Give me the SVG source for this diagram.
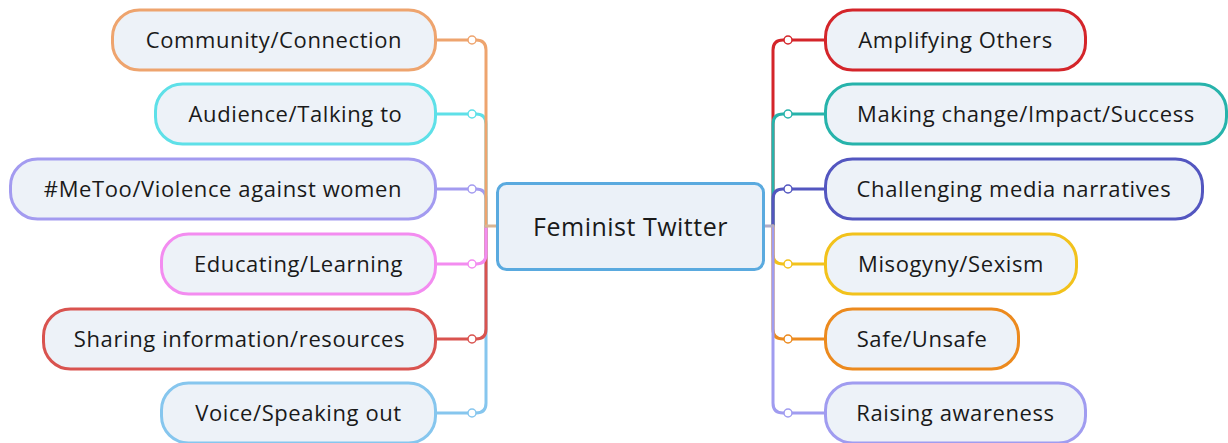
<svg xmlns="http://www.w3.org/2000/svg" width="1228" height="443" viewBox="0 0 1228 443">
<style>
.node{fill:#edf2f8;stroke-width:3}
.lbl{font-family:"Open Sans","Noto Sans",sans-serif;font-size:22px;letter-spacing:0.6px;fill:#1a1a1a;text-anchor:middle}
.root{font-family:"Open Sans","Noto Sans",sans-serif;font-size:25px;letter-spacing:0.5px;fill:#1a1a1a;text-anchor:middle}
.ln{fill:none;stroke-width:3;stroke-linecap:round}
.dot{fill:#ffffff;stroke-width:1.5}
</style>
<g id="connectors">
  <!-- left side, drawn bottom first -->
  <path class="ln" stroke="#86c6ee" d="M486,226 V403 Q486,413 476,413 H437"/>
  <path class="ln" stroke="#d9534f" d="M486,226 V329 Q486,339 476,339 H437"/>
  <path class="ln" stroke="#f38cf0" d="M486,226 V254 Q486,264 476,264 H437"/>
  <path class="ln" stroke="#a39bf0" d="M486,226 V199 Q486,189 476,189 H437"/>
  <path class="ln" stroke="#5ee0e8" d="M486,226 V124 Q486,114 476,114 H437"/>
  <path class="ln" stroke="#eea46e" d="M486,226 V50 Q486,40 476,40 H437"/>
  <path class="ln" stroke="#d9b593" stroke-linecap="butt" d="M486,226 H496"/>
  <circle class="dot" stroke="#eea46e" cx="472" cy="40" r="4"/>
  <circle class="dot" stroke="#5ee0e8" cx="472" cy="114" r="4"/>
  <circle class="dot" stroke="#a39bf0" cx="472" cy="189" r="4"/>
  <circle class="dot" stroke="#f38cf0" cx="472" cy="264" r="4"/>
  <circle class="dot" stroke="#d9534f" cx="472" cy="339" r="4"/>
  <circle class="dot" stroke="#86c6ee" cx="472" cy="413" r="4"/>
  <!-- right side, drawn top first -->
  <path class="ln" stroke="#d4252a" d="M773,226 V50 Q773,40 783,40 H824"/>
  <path class="ln" stroke="#27b3ab" d="M773,226 V124 Q773,114 783,114 H824"/>
  <path class="ln" stroke="#5356c0" d="M773,226 V199 Q773,189 783,189 H824"/>
  <path class="ln" stroke="#f2c21c" d="M773,226 V254 Q773,264 783,264 H824"/>
  <path class="ln" stroke="#ec8a1e" d="M773,226 V329 Q773,339 783,339 H824"/>
  <path class="ln" stroke="#a09cf0" d="M773,226 V403 Q773,413 783,413 H824"/>
  <path class="ln" stroke="#b0acc8" stroke-linecap="butt" d="M765,226 H773"/>
  <circle class="dot" stroke="#d4252a" cx="788" cy="40" r="4"/>
  <circle class="dot" stroke="#27b3ab" cx="788" cy="114" r="4"/>
  <circle class="dot" stroke="#5356c0" cx="788" cy="189" r="4"/>
  <circle class="dot" stroke="#f2c21c" cx="788" cy="264" r="4"/>
  <circle class="dot" stroke="#ec8a1e" cx="788" cy="339" r="4"/>
  <circle class="dot" stroke="#a09cf0" cx="788" cy="413" r="4"/>
</g>
<g id="root">
  <rect x="497.5" y="183.5" width="266" height="86" rx="9" fill="#ebf1f8" stroke="#5aaadf" stroke-width="3"/>
  <text class="root" x="630.5" y="236">Feminist Twitter</text>
</g>
<g id="n-community">
  <rect class="node" stroke="#eea46e" x="112.5" y="10" width="323" height="60" rx="27"/>
  <text class="lbl" x="274" y="48">Community/Connection</text>
</g>
<g id="n-audience">
  <rect class="node" stroke="#5ee0e8" x="155.5" y="84" width="280" height="60" rx="27"/>
  <text class="lbl" x="295.5" y="122">Audience/Talking to</text>
</g>
<g id="n-metoo">
  <rect class="node" stroke="#a39bf0" x="10.5" y="159" width="425" height="60" rx="27"/>
  <text class="lbl" x="223" y="197">#MeToo/Violence against women</text>
</g>
<g id="n-educating">
  <rect class="node" stroke="#f38cf0" x="161.5" y="234" width="274" height="60" rx="27"/>
  <text class="lbl" x="298.5" y="272">Educating/Learning</text>
</g>
<g id="n-sharing">
  <rect class="node" stroke="#d9534f" x="43.5" y="309" width="392" height="60" rx="27"/>
  <text class="lbl" x="239.5" y="347">Sharing information/resources</text>
</g>
<g id="n-voice">
  <rect class="node" stroke="#86c6ee" x="161.5" y="383" width="274" height="60" rx="27"/>
  <text class="lbl" x="298.5" y="421">Voice/Speaking out</text>
</g>
<g id="n-amplifying">
  <rect class="node" stroke="#d4252a" x="825.5" y="10" width="260" height="60" rx="27"/>
  <text class="lbl" x="955.5" y="48">Amplifying Others</text>
</g>
<g id="n-making">
  <rect class="node" stroke="#27b3ab" x="825.5" y="84" width="401" height="60" rx="27"/>
  <text class="lbl" x="1026" y="122">Making change/Impact/Success</text>
</g>
<g id="n-challenging">
  <rect class="node" stroke="#5356c0" x="825.5" y="159" width="377" height="60" rx="27"/>
  <text class="lbl" x="1014" y="197">Challenging media narratives</text>
</g>
<g id="n-misogyny">
  <rect class="node" stroke="#f2c21c" x="825.5" y="234" width="251" height="60" rx="27"/>
  <text class="lbl" x="951" y="272">Misogyny/Sexism</text>
</g>
<g id="n-safe">
  <rect class="node" stroke="#ec8a1e" x="825.5" y="309" width="193" height="60" rx="27"/>
  <text class="lbl" x="922" y="347">Safe/Unsafe</text>
</g>
<g id="n-raising">
  <rect class="node" stroke="#a09cf0" x="825.5" y="383" width="260" height="60" rx="27"/>
  <text class="lbl" x="955.5" y="421">Raising awareness</text>
</g>
</svg>
